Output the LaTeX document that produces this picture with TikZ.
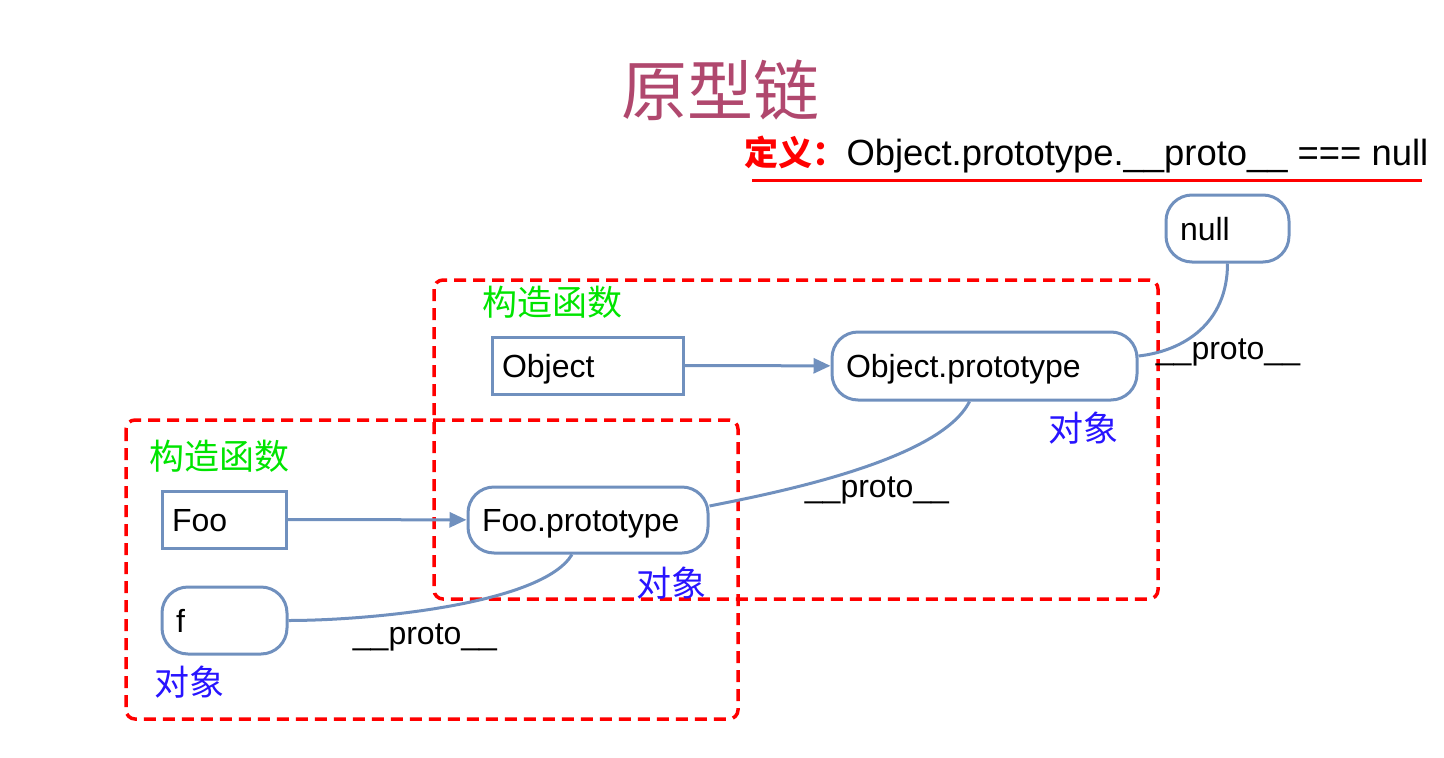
\documentclass[tikz,border=0pt]{standalone}
\usepackage{fontspec}
\setmainfont{Liberation Sans}
\newfontfamily\cjk{Noto Sans CJK SC}
\usetikzlibrary{arrows.meta}
\definecolor{edgeblue}{RGB}{112,144,190}
\definecolor{titlered}{RGB}{176,72,110}
\definecolor{ctorgreen}{RGB}{0,228,0}
\definecolor{objblue}{RGB}{40,20,255}

\begin{document}
\begin{tikzpicture}
      [x = 1pt, y = -1pt, line width = 3pt,
       box/.style = {draw = edgeblue, minimum height = 57pt, inner xsep = 10pt,
         text height = 23pt, text depth = 0pt,
         align = left, font = \fontsize{32}{36}\selectfont},
       rbox/.style = {box, rounded corners = 26pt, minimum height = 67pt, inner xsep = 14pt},
       group/.style = {draw = red, dash pattern = on 12pt off 7pt, line width = 3.5pt,
         rounded corners = 9pt},
       link/.style = {draw = edgeblue},
       proto/.style = {font = \fontsize{32}{36}\selectfont},
       tag/.style = {font = \cjk\fontsize{35}{40}\selectfont}]
      \useasboundingbox (0,0) rectangle (1444,758);
      % title and definition
      \node[font = \cjk\fontsize{66}{70}\selectfont, text = titlered] (title) at (720,90) {原型链};
      \node[anchor = west, inner sep = 0, font = \fontsize{36.4}{40}\selectfont] (def) at (743,155)
        {{\cjk\bfseries\fontsize{34}{40}\selectfont\color{red}定义：}Object.prototype.\_\_proto\_\_ === null};
      \draw[red] (752,180) -- (1422,180);
      % groups
      \draw[group] (434,280) rectangle (1158,599);
      \draw[group] (126,420) rectangle (738,719);
      % nodes
      \node[rbox, text width = 95pt] (null) at (1227.5,228.5) {null};
      \node[box, text width = 171pt] (obj) at (587.5,365.5) {Object};
      \node[rbox, text width = 277pt, minimum height = 68pt] (op) at (984.5,366) {Object.prototype};
      \node[box, text width = 104pt] (foo) at (224,519.5) {Foo};
      \node[rbox, text width = 212pt, minimum height = 66pt] (fp) at (588,520) {Foo.prototype};
      \node[rbox, text width = 97pt] (f) at (224.5,620.5) {f};
      % labels
      \foreach \x/\y/\n in {552/302/1, 219/456/2}
        \node[tag, text = ctorgreen] (ctor\n) at (\x,\y) {构造函数};
      \foreach \x/\y/\n in {1083/428/1, 671/583/2, 189/682/3}
        \node[tag, text = objblue] (inst\n) at (\x,\y) {对象};
      \foreach \x/\y/\n in {1228/352/1, 877/490/2, 425/637/3}
        \node[proto] (pr\n) at (\x,\y) {\_\_proto\_\_};
      % links
      \draw[link, -{Triangle[length = 17pt, width = 15pt]}] (obj) -- (op);
      \draw[link, -{Triangle[length = 17pt, width = 15pt]}] (foo) -- (fp);
      \draw[link] (null.south) .. controls +(0,60) and +(45,-5) .. ([yshift = 10pt]op.east);
      \draw[link] ([xshift = -15pt]op.south) .. controls +(-30,60) and +(60,-12) .. ([yshift = 14pt]fp.east);
      \draw[link] ([xshift = -16pt]fp.south) .. controls +(-30,50) and +(80,0) .. (f.east);
\end{tikzpicture}
\end{document}
